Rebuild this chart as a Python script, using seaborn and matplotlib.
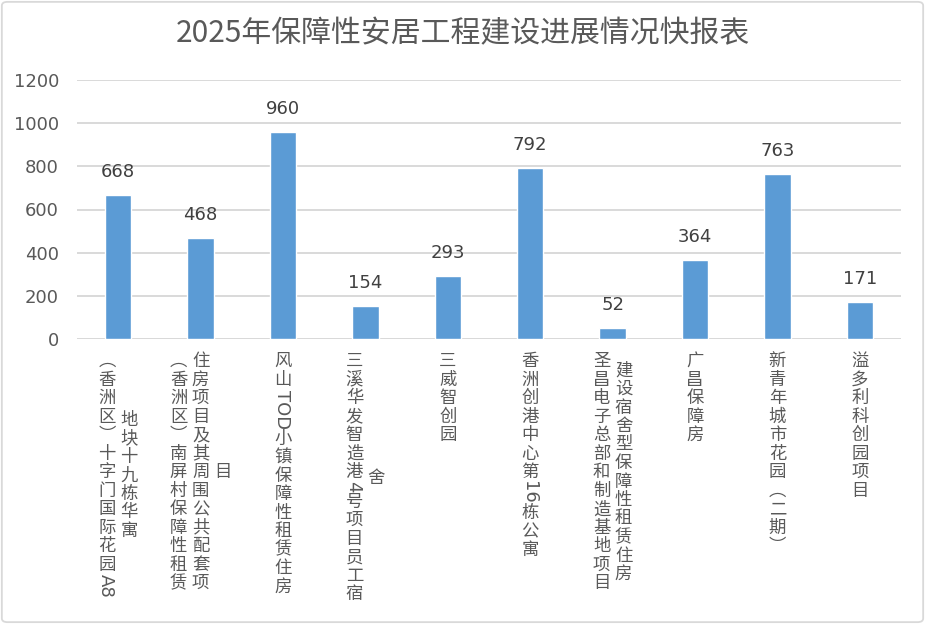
import matplotlib
matplotlib.use('Agg')
import matplotlib.pyplot as plt
from matplotlib.patches import FancyBboxPatch
import seaborn as sns
import pandas as pd

title = "2025年保障性安居工程建设进展情况快报表"
projects = [
    "（香洲区）十字门国际花园A8地块十九栋华寓",
    "（香洲区）南屏村保障性租赁住房项目及其周围公共配套项目",
    "风山TOD小镇保障性租赁住房",
    "三溪华发智造港4号项目员工宿舍",
    "三威智创园",
    "香洲创港中心第16栋公寓",
    "圣昌电子总部和制造基地项目建设宿舍型保障性租赁住房",
    "广昌保障房",
    "新青年城市花园（二期）",
    "溢多利科创园项目",
]
counts = [668, 468, 960, 154, 293, 792, 52, 364, 763, 171]
y_ticks = [0, 200, 400, 600, 800, 1000, 1200]

GRAY = '#595959'
BLUE = '#5B9BD5'
GRID = '#D9D9D9'

sns.set_theme(style='white')
plt.rcParams['font.family'] = ['Noto Sans CJK SC', 'DejaVu Sans']

W, H = 925, 624
fig = plt.figure(figsize=(W / 100, H / 100), dpi=100)
ax = fig.add_axes([77 / W, 1 - 339 / H, (901 - 77) / W, (339 - 80) / H])

df = pd.DataFrame({'项目': projects, '户数': counts})
sns.barplot(data=df, x='项目', y='户数', color=BLUE, saturation=1, width=0.32, ax=ax)

ax.set_ylim(0, 1200)
ax.set_yticks(y_ticks)
ax.set_xlim(-0.5, len(projects) - 0.5)
ax.yaxis.grid(True, color=GRID, lw=1.4)
ax.set_axisbelow(True)
for s in ax.spines.values():
    s.set_visible(False)
ax.axhline(0, color=GRID, lw=1.4, zorder=0.5)
ax.set_xlabel('')
ax.set_ylabel('')
ax.tick_params(axis='y', length=0, pad=13, labelsize=13, labelcolor=GRAY)
for lab in ax.get_yticklabels():
    lab.set_family('DejaVu Sans')
ax.set_xticks(range(len(projects)))
ax.set_xticklabels([])
ax.tick_params(axis='x', length=0)

# data labels above the bars
for p in ax.patches:
    v = p.get_height()
    ax.annotate(f"{v:.0f}", xy=(p.get_x() + p.get_width() / 2, v), xytext=(0, 23),
                textcoords='offset pixels', ha='center', va='center',
                fontsize=13, color='#404040', family='DejaVu Sans')

# vertical stacked category labels (Excel style)
CJK_H = 18.5
MAX_H = 252
VERT = {'（': '︵', '）': '︶'}


def latin_h(t):
    return sum(13.5 if c.isupper() else 11 for c in t)


def tokens(s):
    out, run = [], ''
    for c in s:
        if c.isascii() and c.isalnum():
            run += c
            continue
        if run:
            out.append(run)
            run = ''
        out.append(VERT.get(c, c))
    if run:
        out.append(run)
    return out


def tok_h(t):
    return latin_h(t) if t.isascii() else CJK_H


def wrap(s):
    cols, cur, h = [], [], 0
    for t in tokens(s):
        th = tok_h(t)
        if cur and h + th > MAX_H:
            cols.append(cur)
            cur, h = [], 0
        cur.append(t)
        h += th
    if cur:
        cols.append(cur)
    return cols


for i, name in enumerate(projects):
    cols = wrap(name)
    heights = [sum(tok_h(t) for t in c) for c in cols]
    block = max(heights)
    n = len(cols)
    for j, col in enumerate(cols):
        dx = (j - (n - 1) / 2) * 22
        y = 13 + (block - heights[j]) / 2
        for t in col:
            th = tok_h(t)
            latin = t.isascii()
            ax.annotate(t, xy=(i, 0), xycoords=('data', 'axes fraction'),
                        xytext=(dx - (1 if latin else 0), -(y + th / 2)),
                        textcoords='offset pixels',
                        ha='center', va='center', rotation=-90 if latin else 0,
                        fontsize=13 if latin else 12.5, color=GRAY,
                        family='DejaVu Sans' if latin else None,
                        annotation_clip=False)
            y += th

fig.text(0.5, 1 - 34 / H, title, ha='center', va='center', fontsize=21.5, color=GRAY)

fig.patches.append(FancyBboxPatch((0.002, 0.003), 0.996, 0.994,
                                  boxstyle='round,pad=0,rounding_size=0.006',
                                  transform=fig.transFigure, fill=False,
                                  ec=GRID, lw=1.3))

fig.savefig('out.png', dpi=100)
